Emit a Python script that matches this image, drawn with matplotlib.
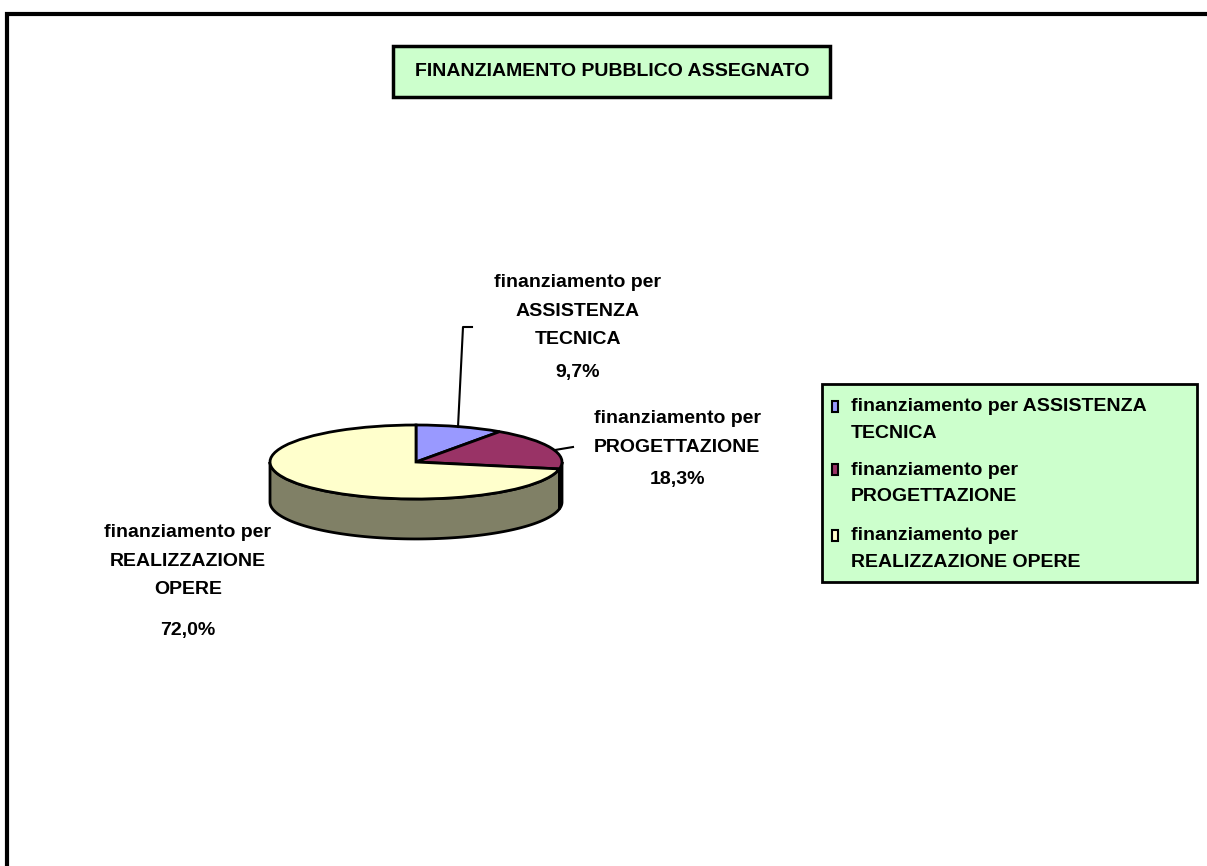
import matplotlib
matplotlib.use('Agg')
import matplotlib.pyplot as plt
import numpy as np
from matplotlib.patches import Rectangle
from matplotlib.lines import Line2D

W, H = 1207, 866

title = 'FINANZIAMENTO PUBBLICO ASSEGNATO'
categories = ['ASSISTENZA TECNICA', 'PROGETTAZIONE', 'REALIZZAZIONE OPERE']
values = [9.7, 18.3, 72.0]
colors = ['#9999FF', '#993366', '#FFFFCC']
side_colors = ['#4D4D80', '#4D1A33', '#808066']
label_names = ['finanziamento per\nASSISTENZA\nTECNICA',
               'finanziamento per\nPROGETTAZIONE',
               'finanziamento per\nREALIZZAZIONE\nOPERE']
legend_names = ['finanziamento per ASSISTENZA\nTECNICA',
                'finanziamento per\nPROGETTAZIONE',
                'finanziamento per\nREALIZZAZIONE OPERE']

font = dict(family=['Liberation Sans', 'DejaVu Sans'], weight='bold', size=14)


def fx(px):
    return px / W


def fy(py):
    return 1 - py / H


fig = plt.figure(figsize=(W / 100, H / 100), dpi=100)
fig.patch.set_facecolor('white')

# outer frame (right/bottom sides fall outside the picture)
fig.add_artist(Rectangle((fx(7), fy(880)), fx(1215), 1, transform=fig.transFigure,
                         fill=False, edgecolor='black', lw=3))

# pie axes: 1 data unit = 146 px in x, 37 px in y
cx, cy, rx, ry = 416, 462, 146, 37
ax = fig.add_axes([fx(cx - 2.5 * rx), (H - cy - 3 * ry) / H, 5 * rx / W, 5 * ry / H])
depth = 1.08

# side wall of the front half
frac = np.cumsum([0] + values) / sum(values)
starts = 90 - frac[:-1] * 360
ends = 90 - frac[1:] * 360
for s, e, c in zip(starts, ends, side_colors):
    lo, hi = min(s, e), max(s, e)
    for k in (-1, 0):
        a0, a1 = max(lo, 180 + 360 * k), min(hi, 360 + 360 * k)
        if a1 <= a0:
            continue
        t = np.radians(np.linspace(a0, a1, 120))
        xs = np.concatenate([np.cos(t), np.cos(t[::-1])])
        ys = np.concatenate([np.sin(t), np.sin(t[::-1]) - depth])
        ax.fill(xs, ys, facecolor=c, edgecolor='black', lw=2, zorder=1)

wedges, _ = ax.pie(values, colors=colors, startangle=90, counterclock=False,
                   wedgeprops=dict(edgecolor='black', linewidth=2))
for w in wedges:
    w.set_zorder(2)
ax.set_aspect('auto')
ax.set_xlim(-2.5, 2.5)
ax.set_ylim(-3, 2)
ax.axis('off')

# title box
fig.add_artist(Rectangle((fx(393), fy(97)), fx(830 - 393), (97 - 46) / H,
                         transform=fig.transFigure, facecolor='#CCFFCC',
                         edgecolor='black', lw=2.5))
fig.text(fx(612), fy(72), title, ha='center', va='center', **font)

# data labels
pct = [f'{v:.1f}'.replace('.', ',') + '%' for v in values]
name_pos = [(578, 311), (677, 433), (188, 561)]
pct_y = [373, 480, 631]
for name, p, (x, y), py in zip(label_names, pct, name_pos, pct_y):
    fig.text(fx(x), fy(y), name, ha='center', va='center', linespacing=1.85, **font)
    fig.text(fx(x), fy(py), p, ha='center', va='center', **font)

# leader lines
for pts in ([(458, 427), (463, 327), (472, 327)], [(555, 450), (573, 447)]):
    xs, ys = zip(*pts)
    fig.add_artist(Line2D([fx(v) for v in xs], [fy(v) for v in ys],
                          transform=fig.transFigure, color='black', lw=1.5))

# legend
fig.add_artist(Rectangle((fx(822), fy(582)), fx(1197 - 822), (582 - 384) / H,
                         transform=fig.transFigure, facecolor='#CCFFCC',
                         edgecolor='black', lw=2))
leg_y = [420, 483.5, 549]
for name, c, y in zip(legend_names, colors, leg_y):
    fig.add_artist(Rectangle((fx(832), fy(y - 8)), fx(6), 11 / H,
                             transform=fig.transFigure, facecolor=c,
                             edgecolor='black', lw=1.5))
    fig.text(fx(851), fy(y), name, ha='left', va='center', linespacing=1.7, **font)

fig.savefig('out.png', dpi=100)
